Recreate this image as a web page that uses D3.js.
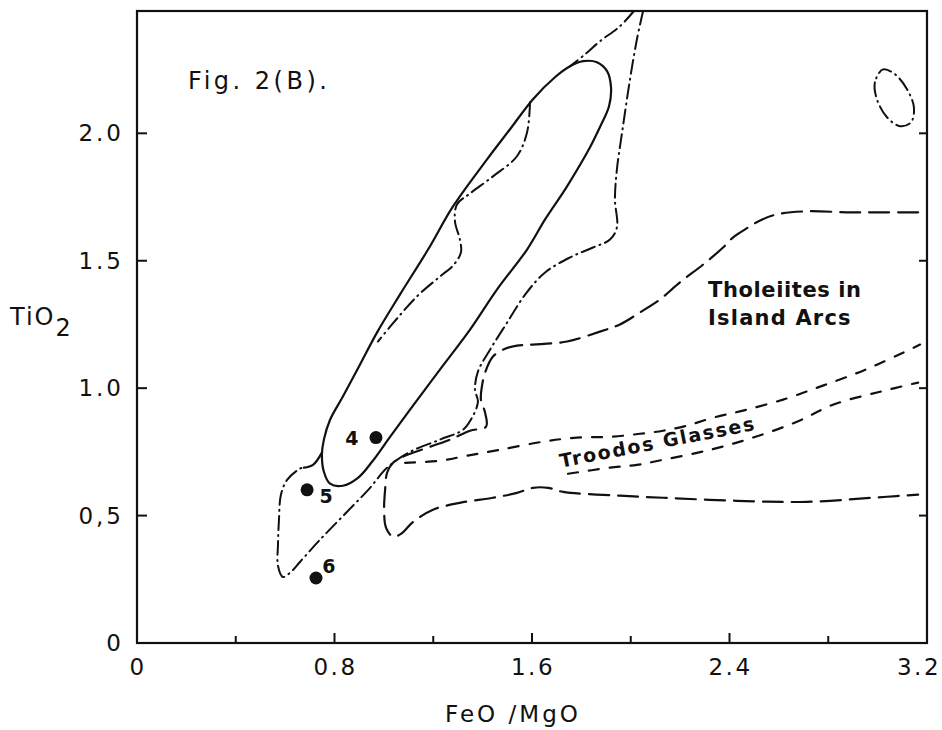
<!DOCTYPE html>
<html>
<head>
<meta charset="utf-8"/>
<style>
body { margin: 0; background: #fff; }
text { font-family: "DejaVu Sans"; fill: #111; }
</style>
</head>
<body>
<div id="fig"></div>
<script src="https://d3js.org/d3.v7.min.js"></script>
<script>

// ---- axis ticks ----
var xTickVals   = [0, 0.8, 1.6, 2.4, 3.2];
var xTickLabels = ["0", "0.8", "1.6", "2.4", "3.2"];
var xMinorVals  = [0.4, 1.2, 2.0, 2.8];
var yTickVals   = [0.5, 1.0, 1.5, 2.0];
var yTickLabels = ["0,5", "1.0", "1.5", "2.0"];

// ---- samples [FeO/MgO, TiO2] ----
var sampleIds = ["4", "5", "6"];
var sampleX   = [0.968, 0.689, 0.725];
var sampleY   = [0.806, 0.601, 0.255];

// ---- field outlines, each point [FeO/MgO, TiO2] ----

// solid loop
var solidLoop = [
  [0.749,0.739],[0.757,0.798],[0.782,0.876],[0.834,0.967],[0.903,1.092],
  [0.972,1.218],[1.065,1.367],[1.179,1.544],[1.280,1.713],[1.418,1.898],
  [1.511,2.016],[1.604,2.134],[1.693,2.220],[1.754,2.263],[1.807,2.283],
  [1.863,2.279],[1.904,2.244],[1.920,2.181],[1.912,2.106],[1.875,2.024],
  [1.835,1.945],[1.742,1.792],[1.653,1.662],[1.580,1.544],[1.458,1.387],
  [1.349,1.230],[1.227,1.073],[1.106,0.916],[1.025,0.809],[0.952,0.711],
  [0.895,0.648],[0.834,0.617],[0.782,0.625],[0.757,0.672]
];
var solidHook = [[0.749,0.747],[0.713,0.699],[0.676,0.688]];

// dash-dot field
var chainOuter = [
  [2.050,2.480],[2.025,2.369],[1.997,2.212],[1.965,2.004],[1.944,1.859],
  [1.936,1.741],[1.944,1.631],[1.916,1.583],[1.847,1.552],[1.754,1.513],
  [1.653,1.454],[1.572,1.367],[1.499,1.257],[1.430,1.151],[1.381,1.065],
  [1.369,0.994],[1.381,0.947],[1.357,0.884],[1.321,0.837],[1.227,0.798],
  [1.106,0.750],[1.013,0.688],[0.944,0.609],[0.851,0.515],[0.741,0.405],
  [0.660,0.318],[0.628,0.283],[0.591,0.259],[0.571,0.303],[0.571,0.385],
  [0.575,0.483],[0.583,0.582],[0.608,0.640],[0.660,0.684],[0.685,0.692]
];
var chainTop = [[2.013,2.480],[1.956,2.420],[1.875,2.361],[1.815,2.310],[1.754,2.263]];
var chainInner = [
  [1.592,2.122],[1.580,2.004],[1.539,1.910],[1.442,1.831],[1.349,1.764],
  [1.296,1.721],[1.288,1.654],[1.308,1.583],[1.312,1.532],[1.280,1.481],
  [1.227,1.438],[1.134,1.360],[1.033,1.250],[0.976,1.183]
];
var chainSmall = [
  [3.022,2.251],[2.989,2.200],[2.997,2.134],[3.038,2.063],[3.091,2.028],
  [3.135,2.043],[3.147,2.102],[3.119,2.173],[3.070,2.232]
];

// long dashes: tholeiites in island arcs
var tholeiiteField = [
  [3.164,1.690],[3.010,1.690],[2.876,1.690],[2.714,1.694],[2.592,1.682],
  [2.524,1.658],[2.463,1.623],[2.414,1.591],[2.374,1.552],[2.293,1.485],
  [2.199,1.415],[2.118,1.348],[2.037,1.297],[1.956,1.250],[1.875,1.222],
  [1.742,1.183],[1.604,1.171],[1.539,1.167],[1.491,1.155],[1.442,1.124],
  [1.410,1.061],[1.397,1.006],[1.393,0.955],[1.410,0.904],[1.414,0.849],
  [1.349,0.833],[1.268,0.798],[1.187,0.770],[1.077,0.731],[1.037,0.707],
  [1.013,0.668],[1.005,0.601],[1.001,0.523],[1.009,0.452],[1.037,0.417],
  [1.069,0.428],[1.118,0.475],[1.199,0.523],[1.308,0.550],[1.442,0.570],
  [1.539,0.589],[1.604,0.609],[1.665,0.609],[1.726,0.593],[1.956,0.578],
  [2.131,0.570],[2.430,0.558],[2.714,0.554],[3.038,0.574],[3.164,0.582]
];

// short dashes: troodos glasses
var troodosUpper = [
  [1.086,0.707],[1.227,0.715],[1.337,0.735],[1.470,0.758],[1.645,0.790],
  [1.782,0.806],[1.916,0.809],[2.037,0.821],[2.131,0.833],[2.228,0.853],
  [2.333,0.884],[2.455,0.912],[2.617,0.955],[2.767,1.006],[2.900,1.053],
  [2.997,1.092],[3.103,1.139],[3.172,1.171]
];
var troodosLower = [
  [1.746,0.664],[1.916,0.688],[2.025,0.699],[2.131,0.719],[2.321,0.758],
  [2.495,0.806],[2.673,0.868],[2.819,0.935],[3.010,0.986],[3.164,1.022]
];

// ---- annotations [FeO/MgO, TiO2] ----
var notes = [
  {text: "Fig. 2(B).",    x: 0.207, y: 2.173, size: 24, weight: "normal", ls: 3.5, rot: 0},
  {text: "Tholeiites in", x: 2.313, y: 1.356, size: 21, weight: "bold",   ls: 0.6, rot: 0},
  {text: "Island Arcs",   x: 2.313, y: 1.246, size: 21, weight: "bold",   ls: 1.2, rot: 0},
  {text: "Troodos Glasses", x: 1.717, y: 0.688, size: 19, weight: "bold", ls: 1.8, rot: -11}
];

// ---- setup ----
var W = 942, H = 730;
var x = d3.scaleLinear().domain([0, 3.2]).range([137, 927]);
var y = d3.scaleLinear().domain([0, 2.48]).range([643, 11]);

var svg = d3.select("#fig").append("svg")
    .attr("width", W)
    .attr("height", H);

var ink = "#111";

// frame
svg.append("rect")
    .attr("x", x(0)).attr("y", y(2.48))
    .attr("width", x(3.2) - x(0))
    .attr("height", y(0) - y(2.48))
    .attr("fill", "none")
    .attr("stroke", ink)
    .attr("stroke-width", 2.2);

// ticks, all pointing inward
svg.selectAll(".xmaj").data(xTickVals.slice(1, 4)).enter().append("line")
    .attr("x1", function(d) { return x(d); }).attr("x2", function(d) { return x(d); })
    .attr("y1", y(0)).attr("y2", y(0) - 10)
    .attr("stroke", ink).attr("stroke-width", 2);
svg.selectAll(".xmin").data(xMinorVals).enter().append("line")
    .attr("x1", function(d) { return x(d); }).attr("x2", function(d) { return x(d); })
    .attr("y1", y(0)).attr("y2", y(0) - 7)
    .attr("stroke", ink).attr("stroke-width", 2);
svg.selectAll(".yl").data(yTickVals).enter().append("line")
    .attr("x1", x(0)).attr("x2", x(0) + 10)
    .attr("y1", function(d) { return y(d); }).attr("y2", function(d) { return y(d); })
    .attr("stroke", ink).attr("stroke-width", 2);
svg.selectAll(".yr").data(yTickVals).enter().append("line")
    .attr("x1", x(3.2)).attr("x2", x(3.2) - 8)
    .attr("y1", function(d) { return y(d); }).attr("y2", function(d) { return y(d); })
    .attr("stroke", ink).attr("stroke-width", 2);

// tick labels
svg.selectAll(".xlab").data(xTickVals).enter().append("text")
    .attr("x", function(d, i) { return i == xTickVals.length - 1 ? x(d) - 8 : x(d) + 1; })
    .attr("y", 675)
    .attr("text-anchor", "middle")
    .attr("font-size", 23)
    .attr("letter-spacing", 2.5)
    .text(function(d, i) { return xTickLabels[i]; });

svg.selectAll(".ylab").data([0].concat(yTickVals)).enter().append("text")
    .attr("x", 124)
    .attr("y", function(d) { return y(d) + 8; })
    .attr("text-anchor", "end")
    .attr("font-size", 23)
    .attr("letter-spacing", 3)
    .text(function(d, i) { return ["0"].concat(yTickLabels)[i]; });

// axis titles
var ytitle = svg.append("text")
    .attr("x", 10).attr("y", 325)
    .attr("font-size", 24)
    .attr("letter-spacing", 2);
ytitle.append("tspan").text("TiO");
ytitle.append("tspan").attr("dy", 11).text("2");

svg.append("text")
    .attr("x", 445).attr("y", 722)
    .attr("font-size", 23)
    .attr("letter-spacing", 3)
    .text("FeO /MgO");

// ---- field lines ----
var openLine = d3.line()
    .x(function(d) { return x(d[0]); })
    .y(function(d) { return y(d[1]); })
    .curve(d3.curveCatmullRom.alpha(0.5));
var loopLine = d3.line()
    .x(function(d) { return x(d[0]); })
    .y(function(d) { return y(d[1]); })
    .curve(d3.curveCatmullRomClosed.alpha(0.5));

function field(pts, gen, dash, sw) {
  svg.append("path")
      .attr("d", gen(pts))
      .attr("fill", "none")
      .attr("stroke", ink)
      .attr("stroke-width", sw)
      .attr("stroke-linecap", "round")
      .attr("stroke-dasharray", dash);
}

var chain = "14,5,1,5";
field(chainOuter, openLine, chain, 2);
field(chainTop, openLine, chain, 2);
field(chainInner, openLine, chain, 2);
field(chainSmall, loopLine, chain, 2);

field(tholeiiteField, openLine, "20,9", 2.2);
field(troodosUpper, openLine, "10,11", 2.2);
field(troodosLower, openLine, "10,11", 2.2);

field(solidLoop, loopLine, null, 2.2);
field(solidHook, openLine, null, 2.2);

// ---- samples ----
var labOff = [[-24, 7], [19, 13], [13, -5]];
sampleIds.forEach(function(id, i) {
  svg.append("circle")
      .attr("cx", x(sampleX[i]))
      .attr("cy", y(sampleY[i]))
      .attr("r", 6.5)
      .attr("fill", ink);
  svg.append("text")
      .attr("x", x(sampleX[i]) + labOff[i][0])
      .attr("y", y(sampleY[i]) + labOff[i][1])
      .attr("text-anchor", "middle")
      .attr("font-size", 19)
      .attr("font-weight", "bold")
      .text(id);
});

// ---- annotations ----
notes.forEach(function(n) {
  svg.append("text")
      .attr("transform", "translate(" + x(n.x) + "," + y(n.y) + ") rotate(" + n.rot + ")")
      .attr("font-size", n.size)
      .attr("font-weight", n.weight)
      .attr("letter-spacing", n.ls)
      .text(n.text);
});

</script>
</body>
</html>
